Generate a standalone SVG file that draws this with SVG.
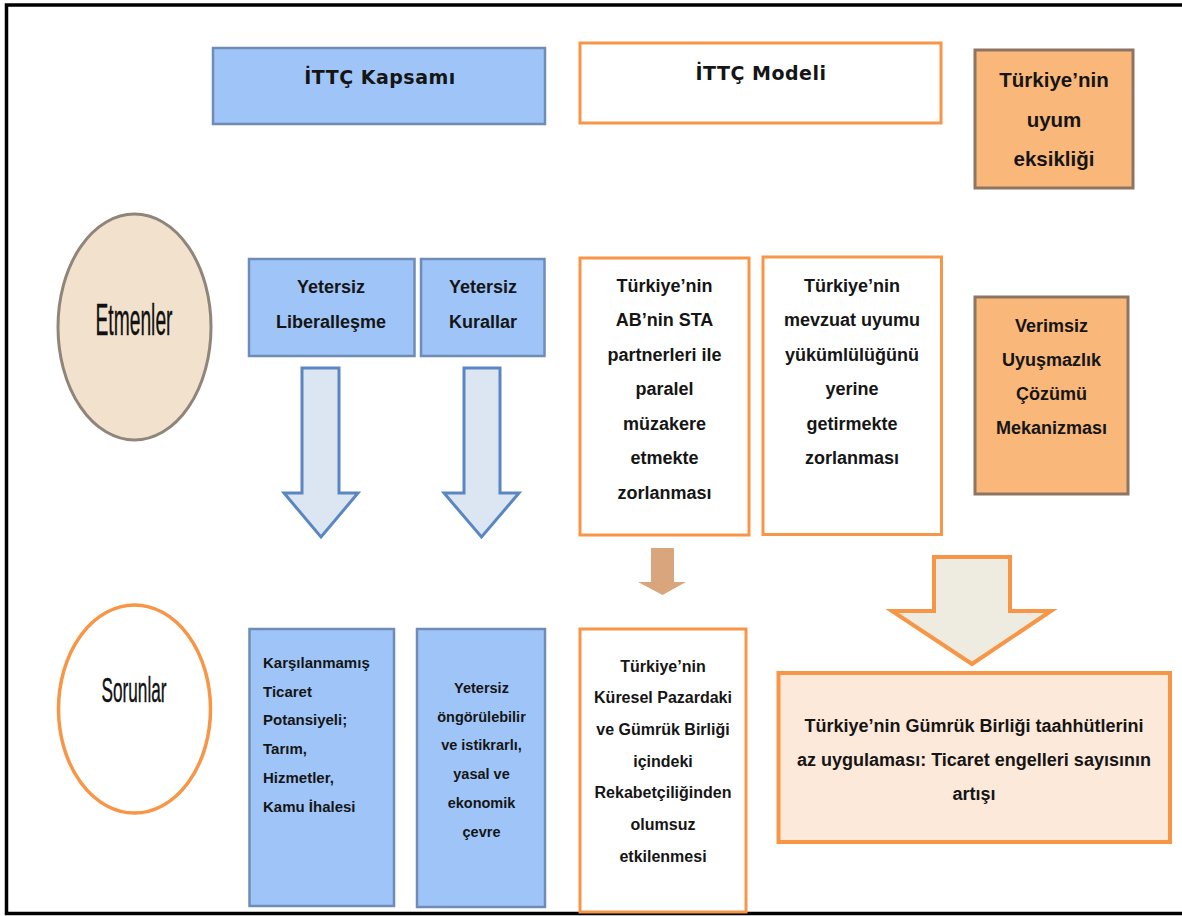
<svg xmlns="http://www.w3.org/2000/svg" width="1182" height="916" viewBox="0 0 1182 916">
<style>
.blue{fill:#9FC5F8;stroke:#6F8CB6;stroke-width:2.5}
.org{fill:#FFFFFF;stroke:#F79646;stroke-width:3}
.orgf{fill:#FAB77A;stroke:#8E7563;stroke-width:3}
.t{font-family:"Liberation Sans",Arial,sans-serif;font-weight:bold;font-size:18px;fill:#151515;text-anchor:middle}
.h{font-family:"DejaVu Sans","Liberation Sans",sans-serif;font-weight:bold;font-size:19px;letter-spacing:0.5px;fill:#151515;text-anchor:middle}
.c{font-family:"Liberation Sans",Arial,sans-serif;font-weight:normal;fill:#111;text-anchor:middle;stroke:#111;stroke-width:0.4}
.s15{font-size:15px}
.l{text-anchor:start}
.barrow{fill:#DCE6F2;stroke:#5A86C2;stroke-width:3}
</style>
<rect x="0" y="0" width="1182" height="916" fill="#FFFFFF"/>
<path d="M1182 5 H6.5 V913.5 H1182" fill="none" stroke="#000" stroke-width="3.5"/>

<g id="kapsam">
<rect class="blue" x="213" y="48" width="332" height="76"/>
<text class="h" x="380" y="84">İTTÇ Kapsamı</text>
</g>
<g id="model">
<rect class="org" x="580" y="43" width="361" height="80"/>
<text class="h" x="761" y="80">İTTÇ Modeli</text>
</g>
<g id="uyum">
<rect class="orgf" x="975" y="50" width="158" height="138"/>
<text class="t" x="1054" y="87" style="font-size:20.5px">Türkiye’nin</text>
<text class="t" x="1054" y="126.5" style="font-size:20.5px">uyum</text>
<text class="t" x="1054" y="166" style="font-size:20.5px">eksikliği</text>
</g>

<g id="etmenler">
<ellipse cx="134.5" cy="327" rx="76.5" ry="113" fill="#F2E2CD" stroke="#8F857B" stroke-width="3"/>
<text class="c" x="134" y="335" font-size="45" textLength="77" lengthAdjust="spacingAndGlyphs">Etmenler</text>
</g>
<g id="sorunlar">
<ellipse cx="134.5" cy="709" rx="76" ry="104" fill="#FFFFFF" stroke="#F79646" stroke-width="3.5"/>
<text class="c" x="134" y="702" font-size="35" textLength="65" lengthAdjust="spacingAndGlyphs">Sorunlar</text>
</g>

<g id="liberal">
<rect class="blue" x="249" y="259" width="165.5" height="97"/>
<text class="t" x="331" y="293">Yetersiz</text>
<text class="t" x="331" y="328">Liberalleşme</text>
</g>
<g id="kurallar">
<rect class="blue" x="421" y="259" width="123.5" height="97"/>
<text class="t" x="483" y="293">Yetersiz</text>
<text class="t" x="483" y="328">Kurallar</text>
</g>

<g id="sta">
<rect class="org" x="580" y="258" width="169" height="277"/>
<text class="t" x="664.5" y="291.5">Türkiye’nin</text>
<text class="t" x="664.5" y="326">AB’nin STA</text>
<text class="t" x="664.5" y="360.5">partnerleri ile</text>
<text class="t" x="664.5" y="395">paralel</text>
<text class="t" x="664.5" y="429.5">müzakere</text>
<text class="t" x="664.5" y="464">etmekte</text>
<text class="t" x="664.5" y="498.5">zorlanması</text>
</g>
<g id="mevzuat">
<rect class="org" x="763" y="257" width="178.5" height="277.5"/>
<text class="t" x="852" y="291.5">Türkiye’nin</text>
<text class="t" x="852" y="326">mevzuat uyumu</text>
<text class="t" x="852" y="360.5">yükümlülüğünü</text>
<text class="t" x="852" y="395">yerine</text>
<text class="t" x="852" y="429.5">getirmekte</text>
<text class="t" x="852" y="464">zorlanması</text>
</g>
<g id="verimsiz">
<rect class="orgf" x="975" y="297" width="153" height="197"/>
<text class="t" x="1051.5" y="332">Verimsiz</text>
<text class="t" x="1051.5" y="366">Uyuşmazlık</text>
<text class="t" x="1051.5" y="400">Çözümü</text>
<text class="t" x="1051.5" y="434">Mekanizması</text>
</g>

<g id="potansiyel">
<rect class="blue" x="249.5" y="629" width="144.5" height="277"/>
<text class="t s15 l" x="263" y="668">Karşılanmamış</text>
<text class="t s15 l" x="263" y="696.7">Ticaret</text>
<text class="t s15 l" x="263" y="725.4">Potansiyeli;</text>
<text class="t s15 l" x="263" y="754.1">Tarım,</text>
<text class="t s15 l" x="263" y="782.8">Hizmetler,</text>
<text class="t s15 l" x="263" y="811.5">Kamu İhalesi</text>
</g>
<g id="cevre">
<rect class="blue" x="417" y="629" width="128" height="278"/>
<text class="t" x="481.5" y="692.7" style="font-size:14.5px">Yetersiz</text>
<text class="t" x="481.5" y="721.5" style="font-size:14.5px">öngörülebilir</text>
<text class="t" x="481.5" y="750.3" style="font-size:14.5px">ve istikrarlı,</text>
<text class="t" x="481.5" y="779.1" style="font-size:14.5px">yasal ve</text>
<text class="t" x="481.5" y="807.9" style="font-size:14.5px">ekonomik</text>
<text class="t" x="481.5" y="836.7" style="font-size:14.5px">çevre</text>
</g>
<g id="rekabet">
<rect class="org" x="580" y="629" width="166" height="283"/>
<text class="t" x="663" y="671.7" style="font-size:16px">Türkiye’nin</text>
<text class="t" x="663" y="703.3" style="font-size:16px">Küresel Pazardaki</text>
<text class="t" x="663" y="735" style="font-size:16px">ve Gümrük Birliği</text>
<text class="t" x="663" y="766.7" style="font-size:16px">içindeki</text>
<text class="t" x="663" y="798.3" style="font-size:16px">Rekabetçiliğinden</text>
<text class="t" x="663" y="830" style="font-size:16px">olumsuz</text>
<text class="t" x="663" y="861.7" style="font-size:16px">etkilenmesi</text>
</g>
<g id="gumruk">
<rect x="778.5" y="673" width="391.5" height="169" fill="#FDE9D9" stroke="#F79646" stroke-width="4"/>
<text class="t" x="974" y="731.5">Türkiye’nin Gümrük Birliği taahhütlerini</text>
<text class="t" x="974" y="765.5">az uygulaması: Ticaret engelleri sayısının</text>
<text class="t" x="974" y="799.5">artışı</text>
</g>

<g id="connectors">
<polygon class="barrow" points="302,368 339,368 339,493 358,493 321,537 284,493 302,493"/>
<polygon class="barrow" points="464,368 500,368 500,493 519,493 481.5,537 444,493 464,493"/>
<polygon points="651,548 674,548 674,582 686,582 662.5,595 638,582 651,582" fill="#D9A57C"/>
<polygon points="934,557 1010,557 1010,611 1051,611 972,664 892,611 934,611" fill="#EEECE1" stroke="#F79646" stroke-width="4"/>
</g>
</svg>
